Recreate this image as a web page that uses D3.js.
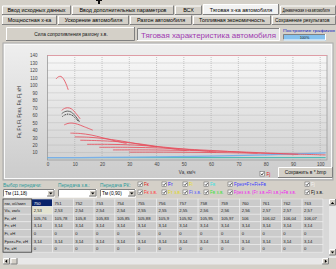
<!DOCTYPE html>
<html>
<head>
<meta charset="utf-8">
<script src="https://cdn.jsdelivr.net/npm/d3@7"></script>
<style>
body{margin:0;background:#d4d0c8;overflow:hidden;}
svg{display:block;font-family:"Liberation Sans",Arial,sans-serif;}
</style>
</head>
<body>
<svg id="win" width="336" height="269"></svg>
<script>
// axis ticks
var xTicks = [0, 10, 20, 30, 40, 50, 60, 70, 80, 90, 100];
var yTicks = [10, 20, 30, 40, 50, 60, 70, 80, 90, 100, 110, 120, 130, 140];

// traction force Fк for each gear: [Va км/ч, F кН]
var gear1 = [[3.1, 108.5], [4.0, 111.5], [4.9, 112], [5.8, 109], [6.8, 102], [7.6, 94]];
var gear2 = [[5.2, 66.5], [6.2, 69], [7.4, 70], [8.8, 68.5], [10.4, 62.5], [12.0, 55]];
var gear3 = [[6.1, 47], [7.5, 49], [9.0, 49.5], [11.0, 48], [13.5, 44.5], [16.6, 40]];
var gear4 = [[8.4, 36], [12, 35.5], [16, 33.5], [20, 30], [25, 25.5], [29, 22]];
var gear5 = [[10, 31], [15, 30.5], [20, 29], [27, 25.5], [33, 21.5], [40, 17.5]];
var gear6 = [[12, 26.5], [18, 26], [26, 24.5], [34, 21.5], [42, 17], [51, 12.5]];
var gear7 = [[14.5, 21], [22, 21], [32, 20], [42, 17.5], [52, 14], [62, 10.5]];
var gear8 = [[19, 17], [30, 17], [42, 16], [54, 14], [66, 11.5], [77, 9]];
var gear9 = [[24, 13.5], [38, 13.5], [52, 12.8], [66, 11.5], [80, 9.5], [92, 7.5]];
var gear10 = [[30, 10.5], [46, 10.5], [62, 10], [78, 9], [92, 7.8], [102, 6.8]];
var gearCurves = [gear1, gear2, gear3, gear4, gear5, gear6, gear7, gear8, gear9, gear10];

// second gear, the two dark lines under it
var gear2Dark = [[5.2, 62], [6.2, 64.5], [7.4, 65.5], [8.8, 64], [10.4, 58], [11.8, 51]];
var gear2Dot = [[5.4, 58], [6.4, 60.5], [7.6, 61.5], [9.0, 60], [10.4, 55.5], [11.4, 51.5]];

// resistance forces
var frezLine = [[0, 3.14], [20, 3.4], [40, 4.1], [60, 5.3], [80, 7.0], [100, 9.2], [102, 9.5]];
var fpsiLine = [[0, 3.14], [102, 3.14]];

// tabs
var tabsTop = ["Ввод исходных данных", "Ввод дополнительных параметров", "ВСХ", "Тяговая х-ка автомобиля", "Динамическая х-ка автомобиля"];
var tabsBottom = ["Мощностная х-ка", "Ускорение автомобиля", "Разгон автомобиля", "Топливная экономичность", "Сохранение результатов"];

// table
var colNames = ["750", "751", "752", "753", "754", "755", "756", "757", "758", "759", "760", "761", "762", "763"];
var rowNames = ["nм, об/мин", "Vа, км/ч", "Fк, кН", "Fт, кН", "Fi, кН", "Fрез+Fв, кН", "Fв, кН"];
var vaRow = [2.53, 2.53, 2.54, 2.54, 2.54, 2.55, 2.55, 2.55, 2.56, 2.56, 2.56, 2.57, 2.57, 2.57];
var fkRow = [105.76, 105.78, 105.8, 105.83, 105.85, 105.88, 105.9, 105.92, 105.95, 105.97, 106, 106.02, 106.04, 106.07];
var ftRow = [3.14, 3.14, 3.14, 3.14, 3.14, 3.14, 3.14, 3.14, 3.14, 3.14, 3.14, 3.14, 3.14, 3.14];
var fiRow = [0, 0, 0, 0, 0, 0, 0, 0, 0, 0, 0, 0, 0, 0];
var frezRow = [3.14, 3.14, 3.14, 3.14, 3.14, 3.14, 3.14, 3.14, 3.14, 3.14, 3.14, 3.14, 3.14, 3.14];
var fvRow = [0, 0, 0, 0, 0, 0, 0, 0, 0, 0, 0, 0, 0, 0];

var svg = d3.select("#win");
var defs = svg.append("defs");

function vGrad(id, c1, c2) {
    var g = defs.append("linearGradient").attr("id", id)
        .attr("x1", 0).attr("y1", 0).attr("x2", 0).attr("y2", 1);
    g.append("stop").attr("offset", "0%").attr("stop-color", c1);
    g.append("stop").attr("offset", "100%").attr("stop-color", c2);
}
vGrad("panelGrad", "#efefef", "#cbcbcb");
vGrad("plotGrad", "#f7f7f7", "#d2d2d2");

// windows style 3d box
function bevel(x, y, w, h, fill, raised) {
    var lt = raised ? "#ffffff" : "#808080", rb = raised ? "#808080" : "#ffffff";
    svg.append("rect").attr("x", x).attr("y", y).attr("width", w).attr("height", h).attr("fill", fill);
    svg.append("path").attr("d", "M" + (x + .5) + "," + (y + h) + "V" + (y + .5) + "H" + (x + w))
        .attr("stroke", lt).attr("fill", "none");
    svg.append("path").attr("d", "M" + x + "," + (y + h - .5) + "H" + (x + w - .5) + "V" + y)
        .attr("stroke", rb).attr("fill", "none");
}

function label(x, y, txt, size, color, anchor) {
    return svg.append("text").attr("x", x).attr("y", y)
        .attr("font-size", size).attr("fill", color || "#000")
        .attr("text-anchor", anchor || "start").text(txt);
}

// little black mark on top
svg.append("rect").attr("x", 98).attr("y", 0).attr("width", 2).attr("height", 4).attr("fill", "#111");
svg.append("rect").attr("x", 96).attr("y", 0).attr("width", 6).attr("height", 1).attr("fill", "#111");

// tab rows (last tabs run to the window edge, their text is squeezed to fit)
var tabRow1X = [2, 72, 175, 203, 280, 337];
tabsTop.forEach(function(t, i) {
    var x0 = tabRow1X[i], x1 = tabRow1X[i + 1] - 1;
    var active = i === 3;
    var y0 = active ? 4 : 5.5;
    bevel(x0, y0, x1 - x0, 15 - y0, active ? "#f2f2f2" : "#d4d0c8", true);
    if (i === 4) {
        svg.append("text").attr("transform", "translate(" + (x0 + 2.5) + ",12.2) scale(0.62,1)")
            .attr("font-size", 5.2).attr("fill", "#000").text(t);
    }
    else label((x0 + x1) / 2, 12.2, t, 5.4, "#000", "middle");
});
var tabRow2X = [2, 58, 130, 193, 272, 337];
tabsBottom.forEach(function(t, i) {
    var x0 = tabRow2X[i], x1 = tabRow2X[i + 1] - 1;
    bevel(x0, 15.5, x1 - x0, 9.5, "#d4d0c8", true);
    if (i === 4) {
        svg.append("text").attr("transform", "translate(" + (x0 + 3) + ",22.3) scale(0.88,1)")
            .attr("font-size", 5.4).attr("fill", "#000").text(t);
    }
    else label((x0 + x1) / 2, 22.3, t, 5.4, "#000", "middle");
});

// button and title
bevel(6, 27, 129, 14, "#d4d0c8", true);
label(71, 36, "Сила сопротивления разгону з.в.", 4.8, "#111", "middle");
bevel(137, 28, 143, 13, "#e6e6e6", false);
label(208.5, 37.6, "Тяговая характеристика автомобиля", 7.6, "#a03ab0", "middle")
    .attr("textLength", 135).attr("lengthAdjust", "spacingAndGlyphs");
label(283, 31.5, "Построение графиков", 4.2, "#1020c0").attr("textLength", 52).attr("lengthAdjust", "spacingAndGlyphs");
bevel(283, 34, 43, 6.5, "#86c2ee", false);
label(304.5, 39, "100%", 3.8, "#222", "middle");

// chart panel
svg.append("rect").attr("x", 3).attr("y", 43).attr("width", 330).attr("height", 137)
    .attr("fill", "url(#panelGrad)").attr("stroke", "#a8a8a8");
svg.append("rect").attr("x", 4.5).attr("y", 44.5).attr("width", 327).attr("height", 134)
    .attr("fill", "none").attr("stroke", "#fafafa");

var x = d3.scaleLinear().domain([0, 102.5]).range([47.5, 327]);
var y = d3.scaleLinear().domain([0, 140]).range([160, 55.5]);

svg.append("rect").attr("x", x(0)).attr("y", y(140)).attr("width", x(102.5) - x(0)).attr("height", y(0) - y(140))
    .attr("fill", "url(#plotGrad)");

// grid
svg.append("g").selectAll("line").data(xTicks.slice(1)).join("line")
    .attr("x1", function(d) { return x(d); }).attr("x2", function(d) { return x(d); })
    .attr("y1", y(0)).attr("y2", y(140))
    .attr("stroke", "#a6a6a6").attr("stroke-width", 0.6).attr("stroke-dasharray", "1,1");
svg.append("g").selectAll("line").data(yTicks).join("line")
    .attr("x1", x(0)).attr("x2", x(102.5))
    .attr("y1", function(d) { return y(d); }).attr("y2", function(d) { return y(d); })
    .attr("stroke", "#a6a6a6").attr("stroke-width", 0.6).attr("stroke-dasharray", "1,1");

// axes
var xAxis = svg.append("g").attr("transform", "translate(0," + y(0) + ")")
    .call(d3.axisBottom(x).tickValues(xTicks).tickSize(0).tickPadding(3));
var yAxis = svg.append("g").attr("transform", "translate(" + x(0) + ",0)")
    .call(d3.axisLeft(y).tickValues(yTicks).tickSize(0).tickPadding(10));
[xAxis, yAxis].forEach(function(a) {
    a.select(".domain").remove();
    a.selectAll("text").attr("font-size", 4.5).attr("fill", "#444").attr("font-family", "Liberation Sans, Arial, sans-serif");
});

svg.append("rect").attr("x", x(0)).attr("y", y(140)).attr("width", x(102.5) - x(0)).attr("height", y(0) - y(140))
    .attr("fill", "none").attr("stroke", "#9a9a9a").attr("stroke-width", 0.8);

svg.append("text").attr("transform", "translate(21," + 112 + ") rotate(-90)")
    .attr("text-anchor", "middle").attr("font-size", 4.5).attr("fill", "#333")
    .text("Fк, Fт, Fi, Fрез, Fв, Fj, кН");
label(187, 173.5, "Vа, км/ч", 4.5, "#333", "middle");

// curves
var line = d3.line()
    .x(function(d) { return x(d[0]); })
    .y(function(d) { return y(d[1]); })
    .curve(d3.curveCatmullRom);

svg.append("path").datum(fpsiLine).attr("d", line)
    .attr("fill", "none").attr("stroke", "#3cb8b0").attr("stroke-width", 1);
svg.append("path").datum(frezLine).attr("d", line)
    .attr("fill", "none").attr("stroke", "#7ab0e8").attr("stroke-width", 1.3);
svg.append("line").attr("x1", x(0)).attr("x2", x(102.5)).attr("y1", y(140)).attr("y2", y(140))
    .attr("stroke", "#ec9aa6").attr("stroke-width", 0.8);

svg.append("g").selectAll("path").data(gearCurves).join("path")
    .attr("d", line)
    .attr("fill", "none").attr("stroke", "#e6505e").attr("stroke-opacity", 0.85).attr("stroke-width", 1);
svg.append("path").datum(gear2Dark).attr("d", line)
    .attr("fill", "none").attr("stroke", "#555").attr("stroke-width", 0.9);
svg.append("path").datum(gear2Dot).attr("d", line)
    .attr("fill", "none").attr("stroke", "#222").attr("stroke-width", 0.9).attr("stroke-dasharray", "1,0.8");

// checkbox
function checkbox(cx, cy) {
    svg.append("rect").attr("x", cx).attr("y", cy).attr("width", 4.5).attr("height", 4.5)
        .attr("fill", "#fff").attr("stroke", "#555").attr("stroke-width", 0.5);
    svg.append("path").attr("d", "M" + (cx + 1) + "," + (cy + 2.3) + "L" + (cx + 2) + "," + (cy + 3.5) + "L" + (cx + 3.7) + "," + (cy + 1))
        .attr("fill", "none").attr("stroke", "#111").attr("stroke-width", 0.7);
}

checkbox(260, 171.5);
label(266.5, 175.8, "Fj", 4.6, "#e02020");
bevel(278, 167, 55, 11, "#d4d0c8", true);
label(305.5, 174.3, "Сохранить в *.bmp", 4.8, "#111", "middle");

// gear selection
function combo(x0, w, txt) {
    bevel(x0, 189, w, 8.5, "#ffffff", false);
    bevel(x0 + w - 8, 190, 7.5, 6.5, "#d4d0c8", true);
    svg.append("path").attr("d", "M" + (x0 + w - 6) + ",192.5h3.5l-1.75,2z").attr("fill", "#000");
    if (txt) label(x0 + 2, 195, txt, 4.8, "#000");
}
label(3, 186.5, "Выбор передачи:", 4.8, "#2a9a9a");
label(58, 186.5, "Передача з.в.:", 4.8, "#2a9a9a");
label(100, 186.5, "Передача РК:", 4.8, "#2a9a9a");
combo(3, 52, "Тм (11,18)");
combo(58, 39, "");
combo(100, 36, "Тм (0,90)");

var checks1 = [[138, "Fк", "#e02020"], [162, "Fт", "#2020ff"], [183, "Fi", "#e8e020"], [204, "Fв", "#40e0e0"], [228, "Fрез=Fт+Fi+Fв", "#3a3aff"], [305, "Fj", "#f4f4f4"]];
var checks2 = [[138, "Fк з.в.", "#ff4040"], [162, "Fт з.в.", "#e0d820"], [183, "Fi з.в.", "#5a5aff"], [204, "Fв з.в.", "#40e040"], [228, "Fрез з.в. (Fт з.в.+Fi з.в.)+Fв з.в.", "#f020f0"], [305, "Fj з.в.", "#111"]];
checks1.forEach(function(c) {
    checkbox(c[0], 182);
    label(c[0] + 6, 186.3, c[1], 4.6, c[2]);
});
checks2.forEach(function(c, i) {
    checkbox(c[0], 190);
    var t = label(c[0] + 6, 194.3, c[1], 4.6, c[2]);
    if (i === 4) t.attr("textLength", 62).attr("lengthAdjust", "spacingAndGlyphs");
});

// table
var tableTop = 199, rowH = 7.6, col0W = 28.7, colW = 20.8, tableX = 3;
function fmt(v) { return String(v).replace(".", ","); }
var tableRows = [colNames, vaRow.map(fmt), fkRow.map(fmt), ftRow.map(fmt), fiRow.map(fmt), frezRow.map(fmt), fvRow.map(fmt)];

svg.append("rect").attr("x", 3).attr("y", tableTop).attr("width", 326).attr("height", 59).attr("fill", "#d8d8d8");

var clip = defs.append("clipPath").attr("id", "col0clip");
clip.append("rect").attr("x", tableX).attr("y", tableTop).attr("width", col0W - 1).attr("height", 7 * rowH);

tableRows.forEach(function(row, r) {
    var ty = tableTop + r * rowH;
    row.forEach(function(v, c) {
        var cx = tableX + col0W + c * colW;
        var fill = "#cbcbcb", tc = "#222";
        if (r === 0 && c === 0) { fill = "#0a246a"; tc = "#fff"; }
        if (r === 1 && c === 0) { fill = "#e2e2d0"; }
        svg.append("rect").attr("x", cx).attr("y", ty).attr("width", colW).attr("height", rowH)
            .attr("fill", fill).attr("stroke", "#eeeeee").attr("stroke-width", 0.6);
        label(cx + 2, ty + 5.5, v, 4.2, tc);
    });
    svg.append("rect").attr("x", tableX).attr("y", ty).attr("width", col0W).attr("height", rowH)
        .attr("fill", "#cbcbcb").attr("stroke", "#eeeeee").attr("stroke-width", 0.6);
    label(tableX + 1.5, ty + 5.5, rowNames[r], 4.2, "#222").attr("clip-path", "url(#col0clip)");
});
svg.append("rect").attr("x", tableX).attr("y", tableTop).attr("width", col0W).attr("height", 7 * rowH)
    .attr("fill", "none").attr("stroke", "#333").attr("stroke-width", 0.8);

// scrollbars
svg.append("rect").attr("x", 329).attr("y", tableTop).attr("width", 7).attr("height", 59).attr("fill", "#e8e8e8");
bevel(329, tableTop, 7, 6.5, "#d4d0c8", true);
svg.append("path").attr("d", "M330.8,204h3.4l-1.7,-2z").attr("fill", "#000");
bevel(329, 249, 7, 6.5, "#d4d0c8", true);
svg.append("path").attr("d", "M330.8,251.5h3.4l-1.7,2z").attr("fill", "#000");
svg.append("rect").attr("x", 3).attr("y", 258).attr("width", 326).attr("height", 6.5).attr("fill", "#e8e8e8");
bevel(3, 258, 7, 6.5, "#d4d0c8", true);
svg.append("path").attr("d", "M5,261.2l2.2,-1.7v3.4z").attr("fill", "#000");
bevel(10.5, 258, 7, 6.5, "#d4d0c8", true);
bevel(322, 258, 7, 6.5, "#d4d0c8", true);
svg.append("path").attr("d", "M327,261.2l-2.2,-1.7v3.4z").attr("fill", "#000");
</script>
</body>
</html>
